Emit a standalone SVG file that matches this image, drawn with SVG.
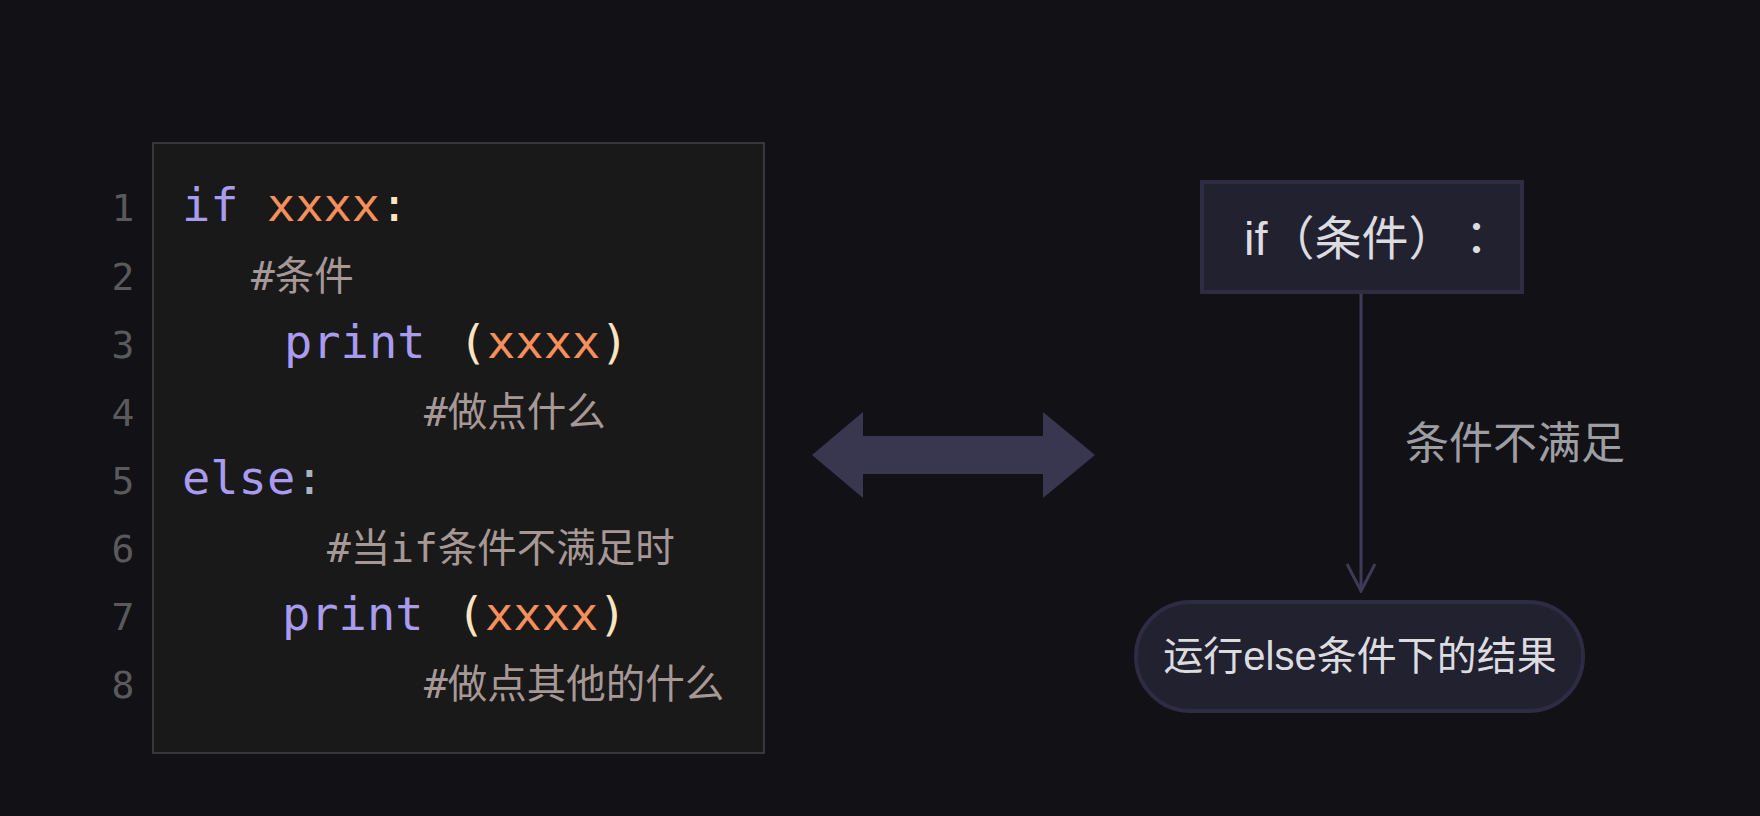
<svg xmlns="http://www.w3.org/2000/svg" width="1760" height="816" viewBox="0 0 1760 816">
<defs>
<style>
.bg{fill:#111116}
.code{fill:#191919;stroke:#38383a;stroke-width:2}
.ln{font-family:"DejaVu Sans Mono",monospace;font-size:38px;fill:#5a5a5c;text-anchor:middle}
.c{font-family:"DejaVu Sans Mono","Noto Sans CJK SC",monospace;font-size:47px}
.cm{font-family:"DejaVu Sans Mono","Noto Sans CJK SC",monospace;font-size:39.5px;fill:#a69896}
.kw{fill:#a99cf0}
.var{fill:#f68f5c}
.pn{fill:#fde4c0}
.cl{fill:#aab2c0}
.node{fill:#222130;stroke:#2e2b42;stroke-width:4}
.nt{font-family:"Liberation Sans","Noto Sans CJK SC",sans-serif;fill:#dcdce0}
.nt2{font-family:"Liberation Sans","Noto Sans CJK TC",sans-serif;fill:#dcdce0;font-size:47px}
.lbl{font-family:"Liberation Sans","Noto Sans CJK SC",sans-serif;font-size:44px;fill:#9e9ea2}
.edge{stroke:#3e3a58;stroke-width:3;fill:none}
</style>
<marker id="arr" viewBox="0 0 30 30" refX="28" refY="15" markerWidth="30" markerHeight="30" markerUnits="userSpaceOnUse" orient="auto">
<path d="M1,1 L28,15 L1,29" fill="none" stroke="#3e3a58" stroke-width="3"/>
</marker>
</defs>
<rect class="bg" x="0" y="0" width="1760" height="816"/>
<g id="code-block">
<rect class="code" x="153" y="143" width="611" height="610"/>
<text class="ln" x="123" y="221">1</text>
<text class="ln" x="123" y="290">2</text>
<text class="ln" x="123" y="358">3</text>
<text class="ln" x="123" y="426">4</text>
<text class="ln" x="123" y="494">5</text>
<text class="ln" x="123" y="562">6</text>
<text class="ln" x="123" y="630">7</text>
<text class="ln" x="123" y="698">8</text>
<text class="c" x="182" y="221"><tspan class="kw">if</tspan> <tspan class="var">xxxx</tspan><tspan class="pn">:</tspan></text>
<text class="cm" x="251" y="290">#条件</text>
<text class="c" x="284" y="358"><tspan class="kw">print</tspan> <tspan class="pn" dx="5">(</tspan><tspan class="var">xxxx</tspan><tspan class="pn">)</tspan></text>
<text class="cm" x="424" y="426">#做点什么</text>
<text class="c" x="182" y="494"><tspan class="kw">else</tspan><tspan class="cl">:</tspan></text>
<text class="cm" x="327" y="562">#当if条件不满足时</text>
<text class="c" x="282" y="630"><tspan class="kw">print</tspan> <tspan class="pn" dx="5">(</tspan><tspan class="var">xxxx</tspan><tspan class="pn">)</tspan></text>
<text class="cm" x="424" y="698">#做点其他的什么</text>
</g>
<g id="double-arrow">
<polygon points="812,455 863,412 863,436 1043,436 1043,412 1095,455 1043,498 1043,474 863,474 863,498" fill="#393650"/>
</g>
<g id="connectors">
<line class="edge" x1="1361" y1="293" x2="1361" y2="591" marker-end="url(#arr)"/>
<text class="lbl" x="1405" y="459">条件不满足</text>
</g>
<g id="node-if">
<rect class="node" x="1202" y="182" width="320" height="110"/>
<text class="nt2" x="1244" y="255">if（条件）<tspan x="1453">：</tspan></text>
</g>
<g id="node-else">
<rect class="node" x="1136" y="602" width="447" height="109" rx="54.5"/>
<text class="nt" x="1360" y="670" font-size="40" text-anchor="middle">运行else条件下的结果</text>
</g>
</svg>
